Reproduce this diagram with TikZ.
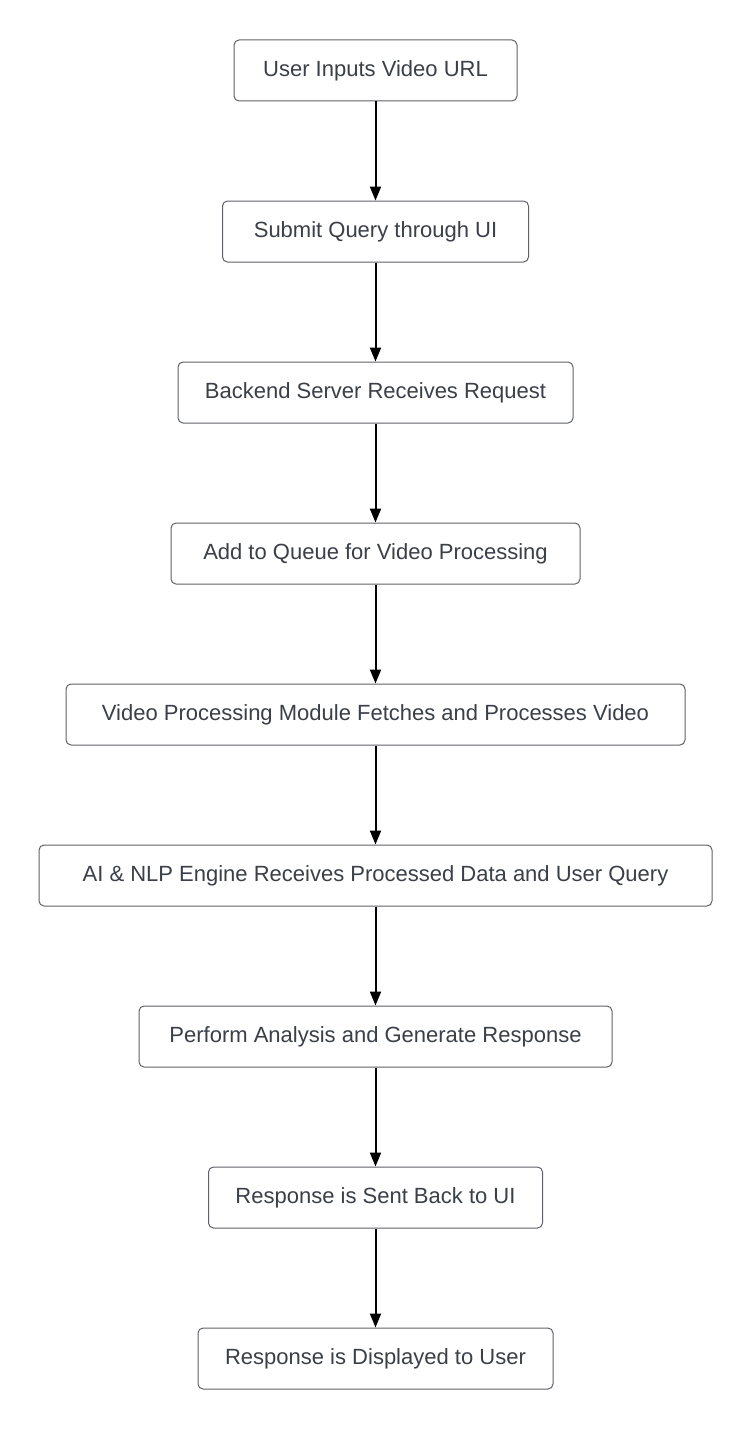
\documentclass[tikz,border=0pt]{standalone}
\usepackage{fontspec}
\setmainfont{Liberation Sans}
\usepackage{tikz}
\usetikzlibrary{positioning,arrows.meta}
\definecolor{boxline}{HTML}{5E6166}
\definecolor{boxtext}{HTML}{3A3F48}

\begin{document}
\begin{tikzpicture}[node distance = 80.5pt, on grid,
    box/.style={draw=boxline, line width=0.5pt, rounded corners=2.5pt, fill=white,
        text=boxtext, font=\fontsize{11}{13}\selectfont,
        minimum height=30.5pt, inner xsep=0pt},
    flow/.style={-{Triangle[length=7pt,width=5.5pt]}, line width=1pt, black}]
    \useasboundingbox (0,0) rectangle (376pt,-714.5pt);
    \node[box, minimum width=141.5pt] (url) at (187.75pt,-35.25pt) {User Inputs Video URL};
    \node[box, minimum width=153pt] (submit)[below= of url] {Submit Query through UI};
    \node[box, minimum width=197.5pt] (backend)[below= of submit] {Backend Server Receives Request};
    \node[box, minimum width=204.5pt] (queue)[below= of backend] {Add to Queue for Video Processing};
    \node[box, minimum width=309.5pt] (video)[below= of queue] {Video Processing Module Fetches and Processes Video};
    \node[box, minimum width=336.5pt] (nlp)[below= of video] {AI \& NLP Engine Receives Processed Data and User Query};
    \node[box, minimum width=236.5pt] (analysis)[below= of nlp] {Perform Analysis and Generate Response};
    \node[box, minimum width=167pt] (sent)[below= of analysis] {Response is Sent Back to UI};
    \node[box, minimum width=177.5pt] (shown)[below= of sent] {Response is Displayed to User};

    \path[flow]
    (url) edge (submit)
    (submit) edge (backend)
    (backend) edge (queue)
    (queue) edge (video)
    (video) edge (nlp)
    (nlp) edge (analysis)
    (analysis) edge (sent)
    (sent) edge (shown);
\end{tikzpicture}
\end{document}
